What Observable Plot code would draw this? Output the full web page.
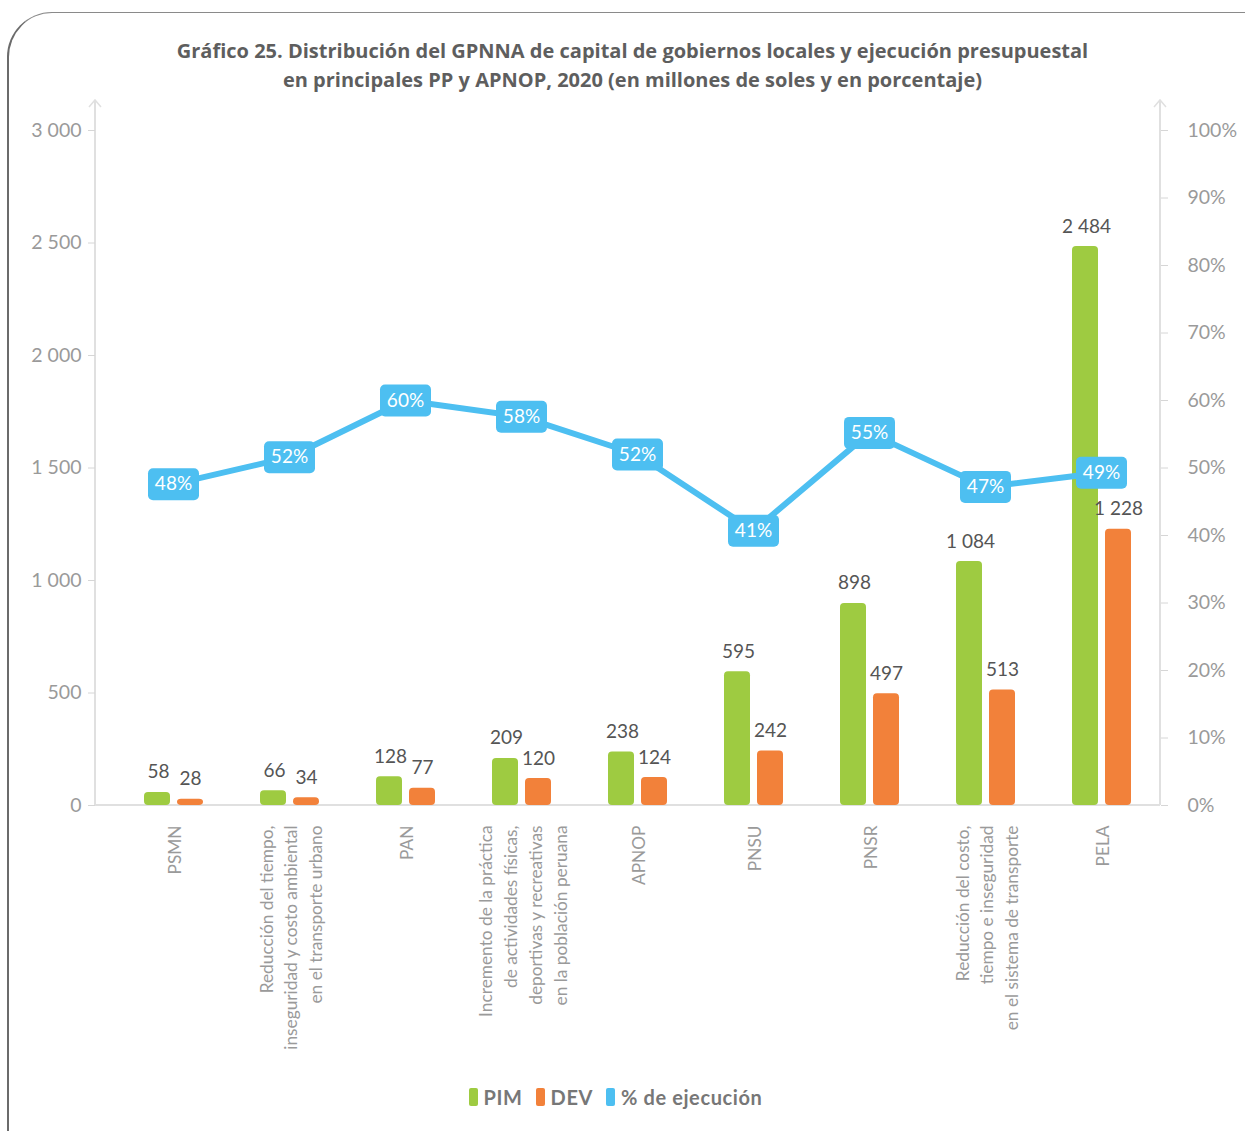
<!DOCTYPE html>
<html>
<head>
<meta charset="utf-8">
<script src="https://cdn.jsdelivr.net/npm/d3@7"></script>
<script src="https://cdn.jsdelivr.net/npm/@observablehq/plot@0.6"></script>
<style>
  html, body { margin: 0; padding: 0; background: #fff; width: 1245px; height: 1131px; overflow: hidden; position: relative; }
  #frame { position: absolute; left: 7px; top: 12px; width: 1400px; height: 1300px;
    border-top: 1.5px solid #8a8a8a; border-left: 2px solid #6b6b6b; border-top-left-radius: 45px; box-sizing: border-box; }
  #title { position: absolute; left: 20px; top: 36px; width: 1225px; text-align: center;
    font-family: "Open Sans", sans-serif; font-weight: 700; font-size: 20px; line-height: 29px; color: #5e5e5e; }
  #chart { position: absolute; left: 0; top: 94px; }
  #legend { position: absolute; left: 0; top: 1085px; width: 1231px; display: flex; justify-content: center; gap: 13px;
    font-family: Lato, sans-serif; font-weight: 700; font-size: 20px; letter-spacing: 0.6px; line-height: 24px; color: #777; }
  #legend span.item { display: flex; align-items: center; }
  #legend span.sw { display: inline-block; width: 9px; height: 18px; border-radius: 2px; margin-right: 6px; }
</style>
</head>
<body>
<div id="frame"></div>
<div id="title">Gráfico 25. Distribución del GPNNA de capital de gobiernos locales y ejecución presupuestal<br>en principales PP y APNOP, 2020 (en millones de soles y en porcentaje)</div>
<div id="chart"></div>
<div id="legend"></div>
<script>
const categories = ["PSMN", "RTTU", "PAN", "IPAF", "APNOP", "PNSU", "PNSR", "RCTI", "PELA"];
const categoryLabels = [
  "PSMN",
  "Reducción del tiempo,\ninseguridad y costo ambiental\nen el transporte urbano",
  "PAN",
  "Incremento de la práctica\nde actividades físicas,\ndeportivas y recreativas\nen la población peruana",
  "APNOP",
  "PNSU",
  "PNSR",
  "Reducción del costo,\ntiempo e inseguridad\nen el sistema de transporte",
  "PELA"
];
const pim = [58, 66, 128, 209, 238, 595, 898, 1084, 2484];
const dev = [28, 34, 77, 120, 124, 242, 497, 513, 1228];
const pctEjecucion = [47.6, 51.6, 60.0, 57.6, 52.0, 40.7, 55.2, 47.2, 49.3];
const leftTicks = [0, 500, 1000, 1500, 2000, 2500, 3000];
const rightTicks = [0, 10, 20, 30, 40, 50, 60, 70, 80, 90, 100];
const seriesNames = ["PIM", "DEV", "% de ejecución"];
const seriesColors = ["#9ecb41", "#f2813a", "#4dbff1"];

const PCT_TO_Y = 30; // right axis 0–100% shares left axis 0–3000
const fmtNum = d => d3.format(",")(d).replace(/,/g, " ");

const lineRows = categories.map((c, i) => ({cat: c, y: pctEjecucion[i] * PCT_TO_Y, label: Math.round(pctEjecucion[i]) + "%"}));

const roundRect = {
  draw(ctx) {
    const w = 25.5, h = 16, r = 5;
    ctx.moveTo(-w + r, -h);
    ctx.lineTo(w - r, -h); ctx.arcTo(w, -h, w, -h + r, r);
    ctx.lineTo(w, h - r); ctx.arcTo(w, h, w - r, h, r);
    ctx.lineTo(-w + r, h); ctx.arcTo(-w, h, -w, h - r, r);
    ctx.lineTo(-w, -h + r); ctx.arcTo(-w, -h, -w + r, -h, r);
    ctx.closePath();
  }
};

const axisLines = (index, scales, values, dims) => {
  const g = d3.create("svg:g").attr("stroke", "#e0e0e0").attr("fill", "none").attr("stroke-width", 2);
  const x0 = dims.marginLeft, x1 = dims.width - dims.marginRight, yb = dims.height - dims.marginBottom;
  const yt = 6;
  g.append("line").attr("x1", x0).attr("x2", x1).attr("y1", yb).attr("y2", yb);
  for (const x of [x0, x1]) {
    g.append("line").attr("x1", x).attr("x2", x).attr("y1", yt).attr("y2", yb);
    g.append("path").attr("d", `M${x - 6},${yt + 7}L${x},${yt}L${x + 6},${yt + 7}`).attr("stroke-width", 1.5);
  }
  return g.node();
};

const chart = Plot.plot({
  width: 1245,
  height: 960,
  marginTop: 36,
  marginLeft: 95,
  marginRight: 85,
  marginBottom: 249,
  style: {fontFamily: "Lato, sans-serif", background: "transparent", overflow: "visible"},
  x: {domain: categories, range: [114, 1159], padding: 0, axis: null},
  y: {domain: [0, 3000]},
  marks: [
    axisLines,
    Plot.axisY({anchor: "left", ticks: leftTicks, tickFormat: fmtNum, tickSize: 7, tickPadding: 7,
      stroke: "#d6d6d6", fill: "#9a9a9a", fontSize: 19.5, label: null}),
    Plot.axisY({anchor: "right", ticks: rightTicks.map(d => d * PCT_TO_Y), tickFormat: d => (d / PCT_TO_Y) + "%",
      tickSize: 7, tickPadding: 20, stroke: "#d6d6d6", fill: "#9a9a9a", fontSize: 19.5, label: null}),
    Plot.barY(categories, {x: d => d, y: (d, i) => pim[i], fill: seriesColors[0], insetLeft: 29, insetRight: 61, rx: 4}),
    Plot.barY(categories, {x: d => d, y: (d, i) => dev[i], fill: seriesColors[1], insetLeft: 62, insetRight: 28, rx: 4}),
    Plot.text(categories, {x: d => d, y: (d, i) => pim[i], text: (d, i) => fmtNum(pim[i]), dx: -15, dy: -14,
      lineAnchor: "bottom", fontSize: 19, fill: "#555"}),
    Plot.text(categories, {x: d => d, y: (d, i) => dev[i], text: (d, i) => fmtNum(dev[i]), dx: 17, dy: -14,
      lineAnchor: "bottom", fontSize: 19, fill: "#555"}),
    Plot.line(lineRows, {x: "cat", y: "y", stroke: seriesColors[2], strokeWidth: 6}),
    Plot.dot(lineRows, {x: "cat", y: "y", symbol: roundRect, fill: seriesColors[2], r: 10}),
    Plot.text(lineRows, {x: "cat", y: "y", text: "label", fill: "#fff", fontSize: 19}),
    Plot.text(categories, {x: d => d, text: (d, i) => categoryLabels[i], frameAnchor: "bottom", rotate: -90,
      textAnchor: "end", lineAnchor: "middle", dy: 20, fill: "#9a9a9a", fontSize: 17.3, lineHeight: 1.43})
  ]
});
document.getElementById("chart").appendChild(chart);

const legend = document.getElementById("legend");
seriesNames.forEach((name, i) => {
  const item = document.createElement("span");
  item.className = "item";
  const sw = document.createElement("span");
  sw.className = "sw";
  sw.style.background = seriesColors[i];
  item.appendChild(sw);
  item.appendChild(document.createTextNode(name));
  legend.appendChild(item);
});
</script>
</body>
</html>
